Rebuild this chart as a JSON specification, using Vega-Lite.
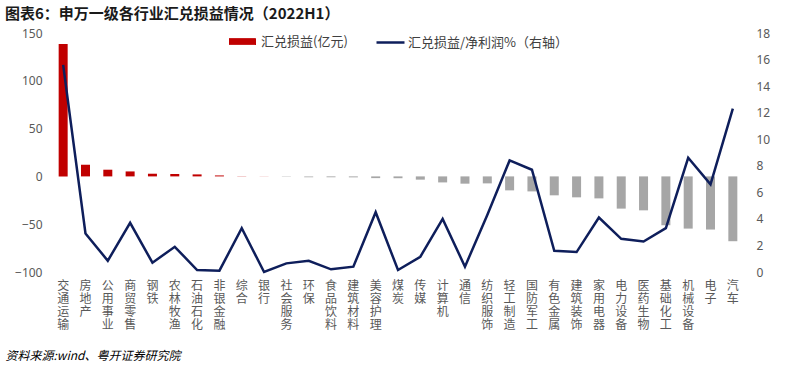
{
  "$schema": "https://vega.github.io/schema/vega-lite/v6.json",
  "width": 692,
  "height": 239,
  "autosize": {"type": "none"},
  "padding": {"left": 52, "top": 33, "right": 56, "bottom": 98},
  "background": "white",
  "title": {
    "text": "图表6：申万一级各行业汇兑损益情况（2022H1）",
    "anchor": "start",
    "frame": "group",
    "dx": -47,
    "offset": 5,
    "font": "Noto Sans CJK SC",
    "fontSize": 15,
    "fontWeight": "bold",
    "color": "#1a1a1a"
  },
  "config": {
    "view": {"stroke": null},
    "font": "Noto Sans CJK SC"
  },
  "data": {
    "values": [
      {"cat": "交通运输", "v": 138.5, "r": 15.6},
      {"cat": "房地产", "v": 12.2, "r": 2.9},
      {"cat": "公用事业", "v": 7.0, "r": 0.85},
      {"cat": "商贸零售", "v": 5.2, "r": 3.7},
      {"cat": "钢铁", "v": 2.8, "r": 0.7},
      {"cat": "农林牧渔", "v": 2.5, "r": 1.9},
      {"cat": "石油石化", "v": 2.1, "r": 0.15},
      {"cat": "非银金融", "v": 1.0, "r": 0.1},
      {"cat": "综合", "v": 0.2, "r": 3.3},
      {"cat": "银行", "v": 0.1, "r": 0.0},
      {"cat": "社会服务", "v": -0.3, "r": 0.65},
      {"cat": "环保", "v": -0.8, "r": 0.85},
      {"cat": "食品饮料", "v": -0.9, "r": 0.2},
      {"cat": "建筑材料", "v": -1.0, "r": 0.4},
      {"cat": "美容护理", "v": -1.8, "r": 4.5},
      {"cat": "煤炭", "v": -1.9, "r": 0.15},
      {"cat": "传媒", "v": -3.4, "r": 1.15},
      {"cat": "计算机", "v": -6.3, "r": 4.0},
      {"cat": "通信", "v": -7.6, "r": 0.4},
      {"cat": "纺织服饰", "v": -7.3, "r": 4.3},
      {"cat": "轻工制造", "v": -14.6, "r": 8.4},
      {"cat": "国防军工", "v": -15.7, "r": 7.7},
      {"cat": "有色金属", "v": -19.8, "r": 1.6},
      {"cat": "建筑装饰", "v": -21.9, "r": 1.5},
      {"cat": "家用电器", "v": -23.0, "r": 4.1},
      {"cat": "电力设备", "v": -33.7, "r": 2.5},
      {"cat": "医药生物", "v": -35.5, "r": 2.3},
      {"cat": "基础化工", "v": -51.1, "r": 3.3},
      {"cat": "机械设备", "v": -54.6, "r": 8.6},
      {"cat": "电子", "v": -55.6, "r": 6.6},
      {"cat": "汽车", "v": -67.8, "r": 12.3}
    ]
  },
  "encoding": {
    "x": {
      "field": "cat",
      "type": "nominal",
      "sort": null,
      "scale": {"paddingInner": 0, "paddingOuter": 0},
      "axis": {
        "labelExpr": "split(datum.label, '')",
        "labelAngle": 0,
        "labelAlign": "center",
        "labelBaseline": "top",
        "labelLineHeight": 13,
        "labelFontSize": 12,
        "labelColor": "#595959",
        "labelPadding": 8,
        "ticks": false,
        "domain": false,
        "title": "资料来源:wind、粤开证券研究院",
        "titleAnchor": "start",
        "titleAlign": "left",
        "titleBaseline": "middle",
        "titleX": -47,
        "titleY": 83,
        "titleFontSize": 12,
        "titleFontStyle": "italic",
        "titleFontWeight": "normal",
        "titleColor": "#000000"
      }
    }
  },
  "layer": [
    {
      "layer": [
        {
          "mark": {"type": "rule", "color": "#BFBFBF", "strokeWidth": 1},
          "encoding": {"y": {"datum": 0, "type": "quantitative"}}
        },
        {
          "mark": {"type": "bar", "size": 9},
          "encoding": {
            "y": {
              "field": "v",
              "type": "quantitative",
              "scale": {"domain": [-100, 150], "nice": false},
              "axis": {
                "values": [-100, -50, 0, 50, 100, 150],
                "title": null,
                "grid": false,
                "domain": false,
                "ticks": false,
                "labelPadding": 10,
                "labelFont": "Noto Sans",
                "labelFontSize": 12,
                "labelColor": "#595959"
              }
            },
            "fill": {
              "condition": {"test": "datum.v < 0", "value": "#A6A6A6"},
              "datum": "汇兑损益(亿元)",
              "type": "nominal",
              "scale": {"range": ["#C00000"]},
              "legend": {
                "orient": "none",
                "legendX": 176,
                "legendY": -6,
                "title": null,
                "symbolType": "M-1,-0.25H1V0.25H-1Z",
                "symbolSize": 729,
                "symbolOpacity": 1,
                "labelFontSize": 13,
                "labelLimit": 0,
                "labelColor": "#404040",
                "labelOffset": 4
              }
            }
          }
        }
      ]
    },
    {
      "mark": {"type": "line", "strokeWidth": 2.5, "interpolate": "linear"},
      "encoding": {
        "y": {
          "field": "r",
          "type": "quantitative",
          "scale": {"domain": [0, 18], "nice": false},
          "axis": {
            "orient": "right",
            "values": [0, 2, 4, 6, 8, 10, 12, 14, 16, 18],
            "title": null,
            "grid": false,
            "domain": false,
            "ticks": false,
            "labelPadding": 12,
            "labelFont": "Noto Sans",
            "labelFontSize": 12,
            "labelColor": "#595959"
          }
        },
        "stroke": {
          "datum": "汇兑损益/净利润%（右轴）",
          "type": "nominal",
          "scale": {"range": ["#0E1E5B"]},
          "legend": {
            "orient": "none",
            "legendX": 323,
            "legendY": -6,
            "title": null,
            "symbolType": "stroke",
            "symbolSize": 784,
            "symbolStrokeWidth": 2.5,
            "labelFontSize": 13,
            "labelLimit": 0,
            "labelColor": "#404040",
            "labelOffset": 2
          }
        }
      }
    }
  ],
  "resolve": {"scale": {"y": "independent"}}
}
